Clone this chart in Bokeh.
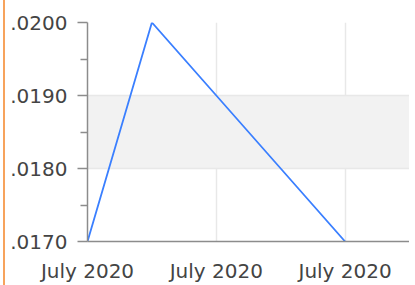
from datetime import datetime
from bokeh.plotting import figure
from bokeh.models import FixedTicker, CustomJSTickFormatter, DatetimeTickFormatter, Range1d
from bokeh.embed import file_html
from bokeh.resources import INLINE

# data
dates = [datetime(2020, 7, 1, 0), datetime(2020, 7, 1, 12), datetime(2020, 7, 2, 0),
         datetime(2020, 7, 2, 12), datetime(2020, 7, 3, 0)]
values = [0.0170, 0.0200, 0.0190, 0.0180, 0.0170]
y_ticks = [0.0170, 0.0180, 0.0190, 0.0200]
y_minor_ticks = [0.0175, 0.0185, 0.0195]
x_tick_dates = [datetime(2020, 7, 1), datetime(2020, 7, 2), datetime(2020, 7, 3)]
x_end = datetime(2020, 7, 3, 12)

def ms(d):
    return (d - datetime(1970, 1, 1)).total_seconds() * 1000.0

p = figure(x_axis_type="datetime",
           output_backend="svg", toolbar_location=None,
           frame_width=322, frame_height=219,
           x_range=Range1d(ms(dates[0]), ms(x_end)),
           y_range=Range1d(min(y_ticks), max(y_ticks)),
           min_border_left=87, min_border_top=22, min_border_right=0, min_border_bottom=43,
           styles={"background": "linear-gradient(to right, transparent 3px, #f7a35c 3px, #f7a35c 5px, transparent 5px)"})
p.outline_line_color = None
p.background_fill_color = "white"
p.border_fill_color = None

p.line(dates, values, line_color="#3a7fff", line_width=1.8)

FONT = "DejaVu Sans"
LABEL = "#444444"
AXIS = "#8c8c8c"

# y axis
ya = p.yaxis[0]
ya.ticker = FixedTicker(ticks=y_ticks, minor_ticks=y_minor_ticks)
ya.formatter = CustomJSTickFormatter(code="return tick.toFixed(4).replace(/^0/, '')")
ya.major_label_text_font = FONT
ya.major_label_text_font_size = "20px"
ya.major_label_text_color = LABEL
ya.axis_line_color = AXIS
ya.axis_line_width = 1.5
ya.major_tick_line_color = AXIS
ya.major_tick_line_width = 1.5
ya.minor_tick_line_color = AXIS
ya.minor_tick_line_width = 1.5
ya.major_tick_out = 10
ya.major_tick_in = 0
ya.minor_tick_out = 7
ya.minor_tick_in = 0
ya.major_label_standoff = 10

# x axis
xa = p.xaxis[0]
xa.ticker = FixedTicker(ticks=[ms(d) for d in x_tick_dates], minor_ticks=[])
fmt = "%B %Y"
xa.formatter = DatetimeTickFormatter(microseconds=fmt, milliseconds=fmt, seconds=fmt,
                                     minsec=fmt, minutes=fmt, hourmin=fmt, hours=fmt,
                                     days=fmt, months=fmt, years=fmt)
xa.major_label_text_font = FONT
xa.major_label_text_font_size = "20px"
xa.major_label_text_color = LABEL
xa.axis_line_color = AXIS
xa.axis_line_width = 1.5
xa.major_tick_line_color = None
xa.minor_tick_line_color = None
xa.major_tick_out = 0
xa.major_tick_in = 0
xa.major_label_standoff = 17

# grids
p.xgrid.grid_line_color = "#e8e8e8"
p.xgrid.grid_line_width = 1.5
p.ygrid.grid_line_color = "#e8e8e8"
p.ygrid.grid_line_width = 1.5
p.ygrid.band_fill_color = "#f2f2f2"
p.ygrid.band_fill_alpha = 1.0

open("out.html", "w").write(file_html(p, INLINE))
